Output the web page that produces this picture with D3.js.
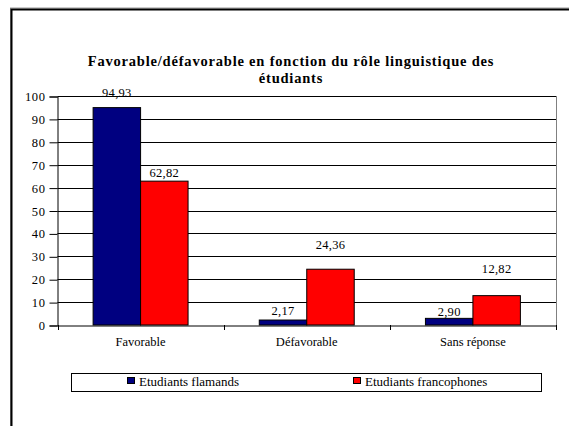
<!DOCTYPE html>
<html>
<head>
<meta charset="utf-8">
<script src="https://cdn.jsdelivr.net/npm/d3@7"></script>
<style>
  html, body { margin: 0; padding: 0; background: #fff; }
  svg { display: block; }
</style>
</head>
<body>
<svg id="chart" width="569" height="426"></svg>
<script>
// ---- data ----
const titleLines = ["Favorable/défavorable en fonction du rôle linguistique des", "étudiants"];
const categories = ["Favorable", "Défavorable", "Sans réponse"];
const seriesNames = ["Etudiants flamands", "Etudiants francophones"];
const flamands = [94.93, 2.17, 2.90];
const francophones = [62.82, 24.36, 12.82];
const valueLabels = [["94,93", "2,17", "2,90"], ["62,82", "24,36", "12,82"]];
const yTicks = [0, 10, 20, 30, 40, 50, 60, 70, 80, 90, 100];

// ---- layout / style ----
const FONT = "'Liberation Serif', 'Times New Roman', Times, serif";
const colors = ["#000080", "#FF0000"];
const labelLift = [[15, 9, 7], [9, 25, 27]];
const plot = { left: 57.5, right: 556, top: 96, bottom: 325 };

const svg = d3.select("#chart");

// outer frame (extends beyond window right/bottom)
svg.append("rect").attr("x", 10.5).attr("y", 8).attr("width", 700).attr("height", 600)
  .attr("fill", "none").attr("stroke", "#999").attr("stroke-width", 1);
svg.append("rect").attr("x", 11.5).attr("y", 9.5).attr("width", 700).attr("height", 600)
  .attr("fill", "none").attr("stroke", "#000").attr("stroke-width", 2);

const x0 = d3.scaleBand().domain(categories).range([plot.left, plot.right]).paddingInner(0).paddingOuter(0);
const bw = x0.bandwidth();
const barW = bw / 3.5;
const x1 = d3.scaleBand().domain(seriesNames).range([barW * 0.75, bw - barW * 0.75]).padding(0);
const y = d3.scaleLinear().domain([0, 100]).range([plot.bottom, plot.top]);

// gridlines
svg.append("g").selectAll("line").data(yTicks.filter(t => t > 0)).join("line")
  .attr("x1", plot.left).attr("x2", plot.right)
  .attr("y1", d => Math.round(y(d)) + 0.5).attr("y2", d => Math.round(y(d)) + 0.5)
  .attr("stroke", "#000").attr("stroke-width", 1);

// plot area right border
svg.append("line").attr("x1", plot.right + 0.5).attr("x2", plot.right + 0.5)
  .attr("y1", plot.top).attr("y2", plot.bottom + 1)
  .attr("stroke", "#808080").attr("stroke-width", 1);

// bars
const seriesData = [flamands, francophones];
seriesData.forEach((vals, si) => {
  const g = svg.append("g");
  g.selectAll("rect").data(vals).join("rect")
    .attr("x", (d, i) => x0(categories[i]) + x1(seriesNames[si]))
    .attr("y", d => y(d))
    .attr("width", x1.bandwidth())
    .attr("height", d => y(0) - y(d))
    .attr("fill", colors[si])
    .attr("stroke", "#000").attr("stroke-width", 1);
  g.selectAll("text").data(vals).join("text")
    .attr("x", (d, i) => x0(categories[i]) + x1(seriesNames[si]) + x1.bandwidth() / 2)
    .attr("y", (d, i) => y(d) - labelLift[si][i])
    .attr("dy", "0.35em")
    .attr("text-anchor", "middle")
    .style("font-family", FONT).style("font-size", "12.5px").style("letter-spacing", "0.3px")
    .text((d, i) => valueLabels[si][i]);
});

// y axis
const yAxis = d3.axisLeft(y).tickValues(yTicks).tickSize(8).tickPadding(4).tickFormat(d3.format("d"));
const ya = svg.append("g").attr("transform", `translate(${plot.left},0.5)`).call(yAxis);
ya.select(".domain").attr("stroke", "#000");
ya.selectAll(".tick line").attr("stroke", "#000");
ya.selectAll(".tick text").style("font-family", FONT).style("font-size", "12.5px")
  .style("letter-spacing", "0.6px").attr("fill", "#000");

// x axis
const xAxis = d3.axisBottom(x0).tickSize(0).tickPadding(12);
const xa = svg.append("g").attr("transform", `translate(0,${plot.bottom + 0.5})`).call(xAxis);
xa.select(".domain").attr("stroke", "#000");
xa.selectAll(".tick text").style("font-family", FONT).style("font-size", "12.5px").attr("fill", "#000");
// category separator ticks
svg.append("g").selectAll("line").data(categories.concat([null])).join("line")
  .attr("x1", (d, i) => Math.round(plot.left + i * bw) + 0.5)
  .attr("x2", (d, i) => Math.round(plot.left + i * bw) + 0.5)
  .attr("y1", plot.bottom).attr("y2", plot.bottom + 5)
  .attr("stroke", "#000");

// title
svg.append("g").selectAll("text").data(titleLines).join("text")
  .attr("x", 291).attr("y", (d, i) => 60.7 + i * 17.5)
  .attr("dy", "0.35em")
  .attr("text-anchor", "middle")
  .style("font-family", FONT).style("font-size", "14.5px").style("font-weight", "bold")
  .style("letter-spacing", "0.8px")
  .text(d => d);

// legend
const lg = svg.append("g");
lg.append("rect").attr("x", 71.5).attr("y", 373.5).attr("width", 470).attr("height", 18)
  .attr("fill", "#fff").attr("stroke", "#000").attr("stroke-width", 1);
const legendX = [127, 353];
seriesNames.forEach((s, i) => {
  lg.append("rect").attr("x", legendX[i] + 0.5).attr("y", 377.5).attr("width", 7).attr("height", 6)
    .attr("fill", colors[i]).attr("stroke", "#000").attr("stroke-width", 1);
  lg.append("text").attr("x", legendX[i] + 12).attr("y", 381).attr("dy", "0.35em")
    .style("font-family", FONT).style("font-size", "13px").text(s);
});
</script>
</body>
</html>
